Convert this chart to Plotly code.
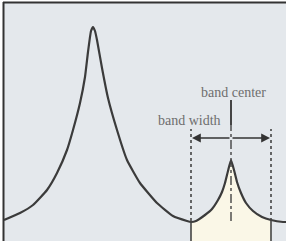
import plotly.graph_objects as go

# Spectrum (frequency units, amplitude units)
freq = [4, 20, 33, 47, 57, 67, 73, 80, 85, 88, 91, 93, 95, 97, 102, 108, 117, 127, 140, 157,
        173, 187, 191, 196, 205, 212, 218, 222, 225, 228, 231, 234, 237, 241, 246, 253, 262, 271, 283, 286]
amp = [21, 28, 36, 51, 68, 91, 111, 138, 164, 189, 210, 214, 210, 201, 173, 143, 111, 81, 58, 38,
       25, 20, 19, 20, 26, 32, 41, 49, 58, 70, 81, 71, 59, 48, 38, 30, 24, 21, 19, 19]

band_low = 191
band_high = 271
band_center = 231

labels = ["band center", "band width"]

W, H = 286, 241
line_col = "#3b3b3b"

fig = go.Figure()

# filled band under the curve
bx = [f for f in freq if band_low <= f <= band_high]
by = [a for f, a in zip(freq, amp) if band_low <= f <= band_high]
fig.add_trace(go.Scatter(x=bx, y=by, mode="lines", line=dict(color="rgba(0,0,0,0)", width=0, shape="spline", smoothing=0.4),
                         fill="tozeroy", fillcolor="#faf7e7", hoverinfo="skip"))

fig.add_trace(go.Scatter(x=freq, y=amp, mode="lines",
                         line=dict(color=line_col, width=2.2, shape="spline", smoothing=0.4),
                         hoverinfo="skip"))

shapes = []
# background panel
shapes.append(dict(type="rect", xref="x", yref="y", x0=4, x1=286, y0=0, y1=238,
                   fillcolor="#e4e8ec", line=dict(width=0), layer="below"))
# frame top and left
shapes.append(dict(type="line", xref="x", yref="y", x0=3, x1=286, y0=238.5, y1=238.5,
                   line=dict(color="#333333", width=2)))
shapes.append(dict(type="line", xref="x", yref="y", x0=3.5, x1=3.5, y0=0, y1=239,
                   line=dict(color="#333333", width=2)))
# band edges: dashed above curve, solid below
for bxv in (band_low, band_high):
    shapes.append(dict(type="line", xref="x", yref="y", x0=bxv, x1=bxv, y0=20, y1=112,
                       line=dict(color="#444444", width=1.6, dash="dot")))
    shapes.append(dict(type="line", xref="x", yref="y", x0=bxv, x1=bxv, y0=0, y1=20,
                       line=dict(color="#444444", width=1.6)))
# center line
shapes.append(dict(type="line", xref="x", yref="y", x0=band_center, x1=band_center, y0=116, y1=141,
                   line=dict(color="#333333", width=1.8)))
shapes.append(dict(type="line", xref="x", yref="y", x0=band_center, x1=band_center, y0=20, y1=116,
                   line=dict(color="#444444", width=1.4, dash="dashdot")))
fig.update_layout(shapes=shapes)

annotations = [
    dict(x=band_center + 2, y=149, text=labels[0], showarrow=False, xanchor="center", yanchor="middle",
         font=dict(family="Liberation Serif", size=14, color="#6e6e6e")),
    dict(x=189, y=121, text=labels[1], showarrow=False, xanchor="center", yanchor="middle",
         font=dict(family="Liberation Serif", size=14, color="#6e6e6e")),
    # double-headed arrow for band width
    dict(x=band_high - 1, y=103, ax=band_center, ay=103, xref="x", yref="y", axref="x", ayref="y",
         text="", showarrow=True, arrowhead=2, arrowsize=1.1, arrowwidth=1.6, arrowcolor="#333333"),
    dict(x=band_low + 1, y=103, ax=band_center, ay=103, xref="x", yref="y", axref="x", ayref="y",
         text="", showarrow=True, arrowhead=2, arrowsize=1.1, arrowwidth=1.6, arrowcolor="#333333"),
]
fig.update_layout(annotations=annotations)

fig.update_layout(
    width=W, height=H,
    margin=dict(l=0, r=0, t=0, b=0),
    paper_bgcolor="white", plot_bgcolor="white",
    showlegend=False,
    xaxis=dict(range=[0, W], visible=False, fixedrange=True),
    yaxis=dict(range=[0, H], visible=False, fixedrange=True),
)

fig.write_html("out.html", config={"displayModeBar": False},
               post_script="document.body.style.margin='0';document.body.style.overflow='hidden';")
